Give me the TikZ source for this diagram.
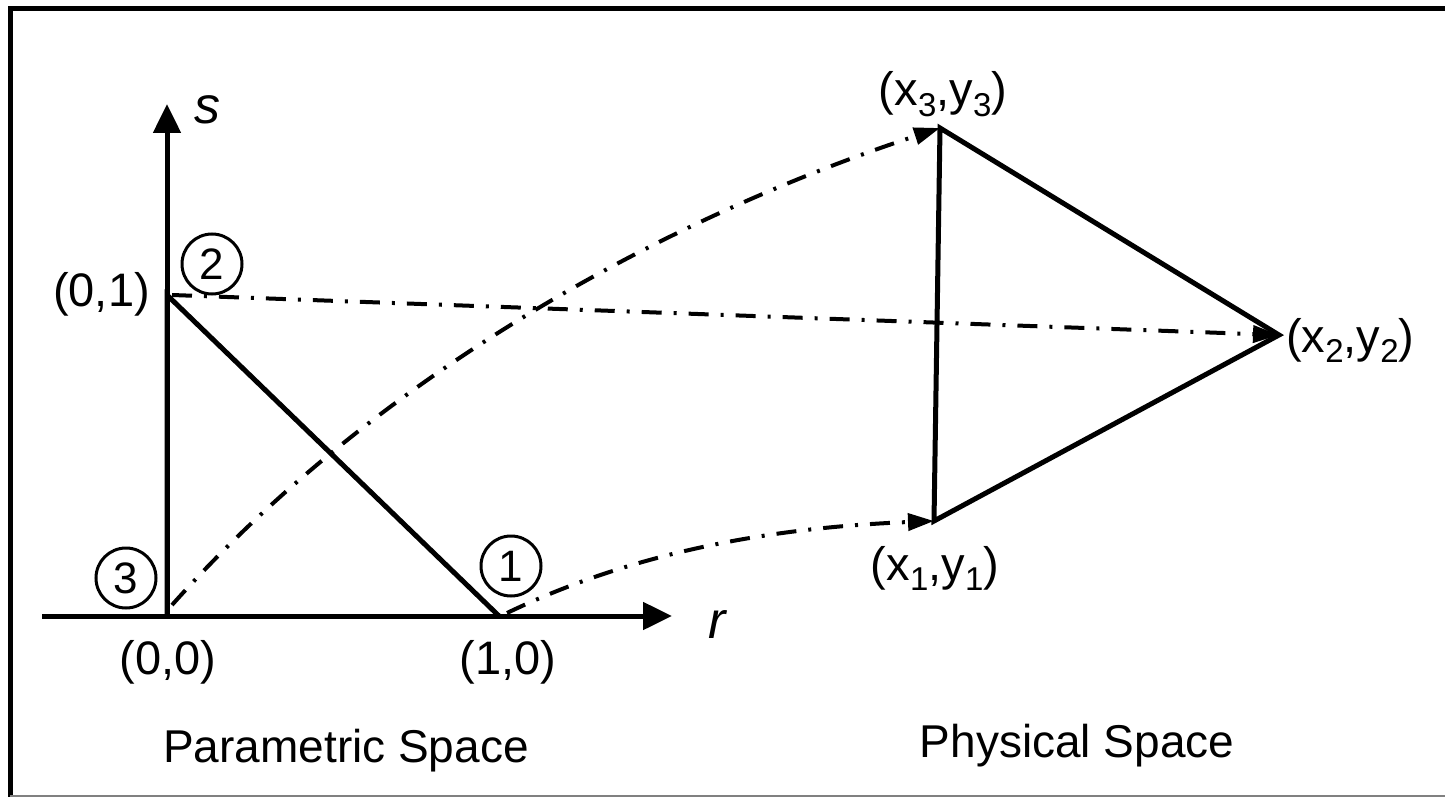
\documentclass[tikz,border=0pt]{standalone}
\usepackage{fontspec}
\setmainfont{Liberation Sans}
\usetikzlibrary{arrows.meta}
\newcommand{\sbs}[1]{\raisebox{-0.22em}{\fontsize{33}{33}\selectfont #1}}
\begin{document}
\begin{tikzpicture}[x=1pt,y=-1pt,
  lbl/.style={font=\fontsize{47}{52}\selectfont, inner sep=0pt},
  axlbl/.style={font=\fontsize{52}{56}\selectfont\itshape, inner sep=0pt},
  num/.style={circle, draw, line width=3pt, minimum size=60pt, inner sep=0pt, font=\fontsize{44}{50}\selectfont},
  edgeline/.style={line width=5pt, line join=miter},
  axisline/.style={line width=5pt, -{Triangle[length=29pt,width=27pt]}},
  mapline/.style={line width=4pt, dash pattern=on 20pt off 12pt on 3pt off 12pt, -{Triangle[length=26pt,width=17pt]}},
  caption/.style={font=\fontsize{46}{50}\selectfont, inner sep=0pt, anchor=base}]
\useasboundingbox (0,0) rectangle (1445,797);
% frame
\draw[line width=4.5pt] (10.5,797) -- (10.5,8.5) -- (1445,8.5);
\draw[line width=2pt, gray] (10,795.8) -- (1445,795.8);
% coordinates
\coordinate (O) at (167,616);
\coordinate (A) at (499,616);
\coordinate (B) at (167,295);
\coordinate (rstart) at (42,616);
\coordinate (rend) at (672,616);
\coordinate (send) at (167,104);
\coordinate (P3) at (940,128);
\coordinate (P2) at (1279,335);
\coordinate (P1) at (934,521);
\coordinate (Os) at (172,605);
\coordinate (As) at (507,613);
\coordinate (Bs) at (172,295);
% axes
\draw[axisline] (rstart) -- (rend);
\draw[axisline] (O) -- (send);
% parametric triangle
\draw[edgeline] (O) -- (B) -- (A);
% physical triangle
\draw[edgeline] (P3) -- (P2) -- (P1) -- cycle;
% mappings
\draw[mapline] (Bs) -- (P2);
\draw[mapline] (Os) .. controls (380,372) and (669,217) .. (P3);
\draw[mapline] (As) .. controls (642,548) and (785,527) .. (P1);
% labels
\node[axlbl] (s) at (207,110) {s};
\node[axlbl] (r) at (717,625) {r};
\node[lbl, anchor=base] (l00) at (168,674) {(0,0)};
\node[lbl, anchor=base] (l10) at (508,674) {(1,0)};
\node[lbl, anchor=base east] (l01) at (150,306) {(0,1)};
\node[num] (n1) at (511,566) {1};
\node[num] (n2) at (212,264) {2};
\node[num] (n3) at (126,578) {3};
\node[lbl, anchor=base] (lx3) at (943,106) {(x\sbs{3},y\sbs{3})};
\node[lbl, anchor=base] (lx1) at (935,580) {(x\sbs{1},y\sbs{1})};
\node[lbl, anchor=base west] (lx2) at (1286,352) {(x\sbs{2},y\sbs{2})};
\node[caption] (cp1) at (346,762) {Parametric Space};
\node[caption] (cp2) at (1077,757) {Physical Space};
\end{tikzpicture}
\end{document}
